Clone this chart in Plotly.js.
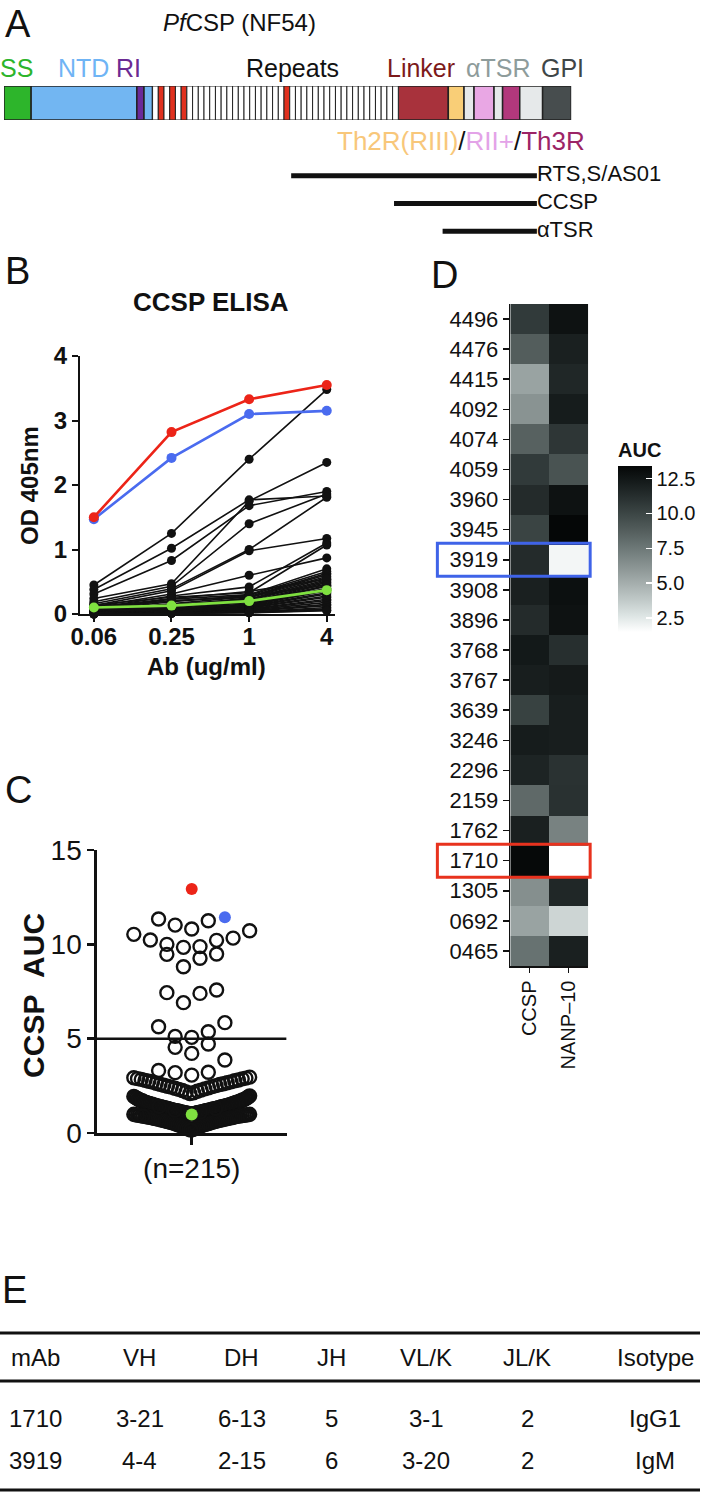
<!DOCTYPE html>
<html><head><meta charset="utf-8">
<script src="https://cdn.plot.ly/plotly-3.0.1.min.js"></script>
<style>html,body{margin:0;padding:0;background:#fff}#chart{width:701px;height:1502px}</style>
</head><body><div id="chart"></div>
<script>
// ================= DATA =================
// Panel A: PfCSP (NF54) domain map (residue coordinates)
const segNames  = ['SS','NTD','RI','NTD','Repeats','Linker','Th2R','αTSR','RII+','αTSR','Th3R','αTSR','GPI'];
const segStart  = [0, 19, 93, 98, 104, 276, 311, 322, 329, 343, 349, 361, 377];
const segEnd    = [19, 93, 98, 104, 276, 311, 322, 329, 343, 349, 361, 377, 397];
const repeatBlocks = [['NANP',1],['NVDP',1],['NANP',1],['NVDP',1],['NANP',1],['NVDP',1],['NANP',17],['NVDP',1],['NANP',19]];
const domainLabels = ['SS','NTD','RI','Repeats','Linker','αTSR','GPI'];
const constructNames = ['RTS,S/AS01','CCSP','αTSR'];
const constructStart = [201, 273, 307];
const constructEnd   = [373, 373, 373];

// Panel B: CCSP ELISA (OD 405nm)
const concentrations = ['0.06','0.25','1','4'];
const od1710    = [1.50, 2.82, 3.33, 3.55];
const od3919    = [1.47, 2.42, 3.10, 3.15];
const odControl = [0.10, 0.13, 0.20, 0.37];
const odOthers = [
 [0.45,1.25,2.40,3.48],[0.38,1.02,1.77,1.83],[0.31,0.83,1.68,1.90],[0.24,0.47,1.75,2.35],
 [0.19,0.43,1.40,1.86],[0.16,0.39,1.00,1.81],[0.13,0.36,0.98,1.17],[0.11,0.31,0.60,0.87],
 [0.09,0.28,0.42,1.10],[0.14,0.26,0.33,1.07],[0.08,0.23,0.30,0.70],[0.06,0.19,0.29,0.66],
 [0.05,0.16,0.27,0.63],[0.07,0.21,0.26,0.61],[0.04,0.12,0.25,0.58],[0.06,0.14,0.23,0.56],
 [0.05,0.11,0.22,0.53],[0.03,0.09,0.21,0.51],[0.04,0.12,0.19,0.49],[0.05,0.13,0.18,0.47],
 [0.03,0.08,0.18,0.44],[0.04,0.07,0.16,0.43],[0.02,0.06,0.15,0.40],[0.03,0.08,0.14,0.38],
 [0.02,0.05,0.13,0.36],[0.03,0.06,0.12,0.33],[0.02,0.05,0.11,0.31],[0.02,0.04,0.10,0.28],
 [0.01,0.04,0.09,0.26],[0.02,0.03,0.08,0.23],[0.01,0.03,0.07,0.21],[0.01,0.02,0.06,0.18],
 [0.01,0.02,0.05,0.15],[0.01,0.02,0.04,0.13],[0.00,0.01,0.03,0.10],[0.00,0.01,0.03,0.08],
 [0.00,0.01,0.02,0.06],[0.00,0.01,0.02,0.05],[0.10,0.24,0.35,0.54],[0.12,0.20,0.28,0.45]
];

// Panel C: CCSP AUC of all mAbs (n=215)
const auc1710 = 12.93;
const auc3919 = 11.43;
const aucControl = 0.98;
const aucCutoff = 5;
const aucOthers = [
 11.34,11.25,11.02,10.81,10.72,10.53,10.33,10.23,10.21,10.00,9.88,9.84,9.49,9.47,9.26,8.81,
 7.58,7.44,7.40,6.91,5.85,5.63,5.37,5.12,5.07,4.72,4.54,4.22,3.87,3.31,3.22,3.20,3.07,
 2.96,2.93,2.91,2.88,2.87,2.84,2.81,2.79,2.77,2.74,2.71,2.70,2.66,2.64,2.61,2.58,2.57,2.53,
 2.51,2.48,2.46,2.43,2.39,2.37,2.34,2.31,2.27,2.25,2.21,2.17,2.13,2.09,
 1.97,1.94,1.91,1.89,1.86,1.85,1.81,1.80,1.77,1.76,
 1.75,1.72,1.71,1.71,1.68,1.66,1.65,1.63,1.63,1.61,
 1.60,1.58,1.58,1.56,1.55,1.53,1.52,1.52,1.50,1.49,
 1.48,1.48,1.46,1.45,1.43,1.43,1.42,1.40,1.39,1.39,
 1.37,1.36,1.36,1.34,1.33,1.31,1.31,1.30,1.28,1.28,
 1.27,1.25,1.25,1.24,1.22,1.21,1.21,1.19,1.18,1.18,
 1.17,1.15,1.15,1.14,1.12,1.12,1.11,1.09,1.09,1.08,
 1.07,1.06,1.05,1.05,1.04,1.02,1.02,1.01,0.99,0.99,
 0.97,0.97,0.96,0.94,0.94,0.93,0.91,0.91,0.90,0.88,
 0.88,0.86,0.86,0.85,0.83,0.83,0.81,0.80,0.80,0.78,
 0.77,0.76,0.75,0.74,0.72,0.72,0.70,0.69,0.68,0.67,
 0.66,0.64,0.63,0.62,0.61,0.59,0.58,0.57,0.55,0.54,
 0.52,0.51,0.49,0.48,0.46,0.44,0.43,0.41,0.39,0.37,
 0.35,0.33,0.31,0.28,0.26,0.24,0.22,0.20,0.18,0.16,
 1.30,1.10,1.00,0.95,1.20,1.40,0.90
];

// Panel D: heatmap of AUC
const mAbIds  = ['4496','4476','4415','4092','4074','4059','3960','3945','3919','3908','3896',
                 '3768','3767','3639','3246','2296','2159','1762','1710','1305','0692','0465'];
const heatCols = ['CCSP','NANP\u201310'];
const aucCCSP = [10.6, 8.8, 5.5, 6.2, 8.6,10.6,11.4,10.1,11.4,12.0,11.4,12.4,12.1,10.2,12.2,11.8, 8.2,12.0,13.3, 6.4, 5.5, 7.8];
const aucNANP = [12.8,12.0,11.6,12.2,10.8, 9.3,12.8,13.4, 1.9,12.9,12.8,11.2,12.3,12.1,12.1,11.0,11.1, 7.0, 1.5,11.6, 3.3,12.0];
const highlightIds = ['3919','1710'];
const cbTicks = [2.5, 5, 7.5, 10, 12.5];

// Panel E: table
const tableHeader = ['mAb','VH','DH','JH','VL/K','JL/K','Isotype'];
const tableRows = [
 ['1710','3-21','6-13','5','3-1','2','IgG1'],
 ['3919','4-4','2-15','6','3-20','2','IgM']
];

// ================= STYLE / LAYOUT =================
const W = 701, H = 1502;
const X = px => px / W;
const Y = py => 1 - py / H;
const FONT = 'Liberation Sans, Arial, Helvetica, sans-serif';
const INK = '#111';
const segColors = ['#2DB52B','#72B6F2','#6A2A9A','#72B6F2','#FFFFFF','#A8323C','#F9CE77','#E6E9EA','#E9A7E4','#E6E9EA','#B2387C','#E6E9EA','#474D4E'];
const unitColor = {NANP:'#FFFFFF', NVDP:'#E0311F'};
const labelColors = ['#2DB52B','#6FB4F5','#6B2A93','#111111','#7D1A1A','#8E9C9B','#3F4647'];
const labelPx = [17, 84, 129, 293, 422, 499, 563];
const RED = '#EC2418', BLUE = '#4A6BEF', GREEN = '#7FE040';

const traces = [];

// ---- Panel A
traces.push({type:'bar', orientation:'h', xaxis:'x', yaxis:'y', hoverinfo:'skip',
  y: segStart.map(()=>0), base: segStart, x: segEnd.map((e,i)=>e-segStart[i]), width: segStart.map(()=>1),
  marker:{color: segColors, line:{color:'#222', width:1.5}}});
const units = [];
repeatBlocks.forEach(([u,n]) => { for (let k=0;k<n;k++) units.push(u); });
const repStart = segStart[segNames.indexOf('Repeats')];
const unitLen = (segEnd[segNames.indexOf('Repeats')] - repStart) / units.length;
traces.push({type:'bar', orientation:'h', xaxis:'x', yaxis:'y', hoverinfo:'skip',
  y: units.map(()=>0), base: units.map((u,i)=>repStart + i*unitLen), x: units.map(()=>unitLen), width: units.map(()=>1),
  marker:{color: units.map(u=>unitColor[u]), line:{color:'#222', width:1}}});
constructNames.forEach((nm,i) => {
  traces.push({type:'scatter', mode:'lines+text', xaxis:'x', yaxis:'y2', hoverinfo:'skip', cliponaxis:false,
    x:[constructStart[i], constructEnd[i]], y:[i,i], text:['', nm], textposition:'middle right',
    textfont:{size:22, color:INK, family:FONT}, line:{color:INK, width:5}});
});

// ---- Panel B
odOthers.forEach(s => traces.push({type:'scatter', mode:'lines+markers', xaxis:'x2', yaxis:'y3', cliponaxis:false,
  x: concentrations, y: s, line:{color:INK, width:1.6}, marker:{color:INK, size:9}, hoverinfo:'skip'}));
[[odControl, GREEN],[od3919, BLUE],[od1710, RED]].forEach(([s,c]) => traces.push({type:'scatter', mode:'lines+markers',
  xaxis:'x2', yaxis:'y3', cliponaxis:false, x: concentrations, y: s, line:{color:c, width:2.6}, marker:{color:c, size:10}, hoverinfo:'skip'}));

// ---- Panel C (column-scatter layout computed from values: rows by value bin, centred, compressed if crowded)
const cDomainPx = {x0:97, x1:287};
const xUnitPx = (cDomainPx.x1 - cDomainPx.x0) / 2;
const swarmBinEdges = [0, 1.0, 2.0, 3.0, 4.1, 5.0, 6.0, 8.0, 9.7, 10.75, 12];
const ptSpacingPx = 16.6, maxHalfPx = 58;
const swarmVals = aucOthers.concat([auc3919]);
function columnScatter(vals) {
  const offs = new Array(vals.length).fill(0);
  for (let b=0; b<swarmBinEdges.length-1; b++) {
    const idx = vals.map((v,i)=>i).filter(i => vals[i] >= swarmBinEdges[b] && vals[i] < swarmBinEdges[b+1]);
    const n = idx.length; if (!n) continue;
    idx.sort((a,c)=>vals[a]-vals[c]);
    const s = n > 1 ? Math.min(ptSpacingPx, 2*maxHalfPx/(n-1)) : 0;
    const pos = [];
    for (let j=0;j<n;j++) pos.push((j-(n-1)/2)*s);
    pos.sort((p,q)=> Math.abs(p)-Math.abs(q) || p-q);
    idx.forEach((i,k)=> offs[i] = pos[k]);
  }
  return offs;
}
const offs = columnScatter(swarmVals);
const nOther = aucOthers.length;
traces.push({type:'scatter', mode:'markers', xaxis:'x3', yaxis:'y4', cliponaxis:false, hoverinfo:'skip',
  x: offs.slice(0,nOther).map(o=>o/xUnitPx), y: aucOthers,
  marker:{symbol:'circle-open', size:13, color:INK, line:{width:2.4, color:INK}}});
traces.push({type:'scatter', mode:'markers', xaxis:'x3', yaxis:'y4', cliponaxis:false, hoverinfo:'skip',
  x: [0, offs[nOther]/xUnitPx, 0], y: [auc1710, auc3919, aucControl],
  marker:{size:12, color:[RED, BLUE, GREEN]}});

// ---- Panel D
traces.push({type:'heatmap', xaxis:'x4', yaxis:'y5', hoverinfo:'skip',
  x: heatCols, y: mAbIds, z: mAbIds.map((_,i)=>[aucCCSP[i], aucNANP[i]]),
  colorscale:[[0,'#FFFFFF'],[0.1,'#DCE4E3'],[0.2,'#BEC7C6'],[0.3,'#A3ACAB'],[0.4,'#889291'],[0.5,'#6E7978'],
              [0.6,'#56605F'],[0.7,'#3F4948'],[0.8,'#2A3232'],[0.9,'#161C1C'],[1,'#050707']],
  colorbar:{x:X(618), xanchor:'left', y:Y(632), yanchor:'bottom', xpad:0, ypad:0,
    thickness:34, thicknessmode:'pixels', len:193, lenmode:'pixels', outlinewidth:0,
    ticks:'inside', ticklen:6, tickwidth:1.5, tickcolor:'#FFFFFF',
    tickvals:cbTicks, ticktext:cbTicks.map(v=>v.toFixed(1)), tickfont:{size:20, color:INK, family:FONT},
    title:{text:'AUC', side:'top', font:{size:20, weight:700, color:INK, family:FONT}}}});

// ---- annotations
const ann = [];
const A = (text, x, y, o={}) => ann.push(Object.assign({text, x:X(x), y:Y(y), xref:'paper', yref:'paper', showarrow:false,
  xanchor:'center', yanchor:'middle', font:{size:22, color:INK, family:FONT}}, o));
[['A',3,24],['B',3,271],['C',3,790],['D',430,275],['E',0,1290]].forEach(([t,x,y]) =>
  A(t, x, y, {xanchor:'left', font:{size:38, color:INK, family:FONT}}));
A('<i>Pf</i>CSP (NF54)', 240, 22, {font:{size:24, color:INK, family:FONT}});
domainLabels.forEach((t,i) => A(t, labelPx[i], 68, {font:{size:25, color:labelColors[i], family:FONT}}));
A('<span style="color:#F8C77A">Th2R(RIII)</span>/<span style="color:#E3A3E8">RII+</span>/<span style="color:#9C2466">Th3R</span>',
  462, 141, {font:{size:26, color:INK, family:FONT}});
A('CCSP ELISA', 211, 302, {font:{size:26, weight:700, color:INK, family:FONT}});
A('OD 405nm', 30, 485, {textangle:-90, font:{size:24, weight:700, color:INK, family:FONT}});
A('Ab (ug/ml)', 207, 666, {font:{size:24, weight:700, color:INK, family:FONT}});
A('CCSP\u00a0\u00a0AUC', 33, 995, {textangle:-90, font:{size:30, weight:700, color:INK, family:FONT}});
const colPx = [36, 140, 242, 332, 427, 528, 656];
const rowPx = [1357, 1418, 1460];
[tableHeader].concat(tableRows).forEach((r,ri) => r.forEach((t,ci) => A(t, colPx[ci], rowPx[ri], {font:{size:24, color:INK, family:FONT}})));

// ---- shapes
const shapes = [];
[1333, 1381, 1490].forEach(py => shapes.push({type:'line', xref:'paper', yref:'paper', x0:0, x1:1, y0:Y(py), y1:Y(py), line:{color:INK, width:3}}));
shapes.push({type:'line', xref:'x3', yref:'y4', x0:-1, x1:1, y0:aucCutoff, y1:aucCutoff, line:{color:INK, width:2.5}});
const boxColors = ['#3F63E8', '#E8321E'];
highlightIds.forEach((id,k) => {
  const idx = mAbIds.indexOf(id);
  shapes.push({type:'rect', xref:'paper', yref:'y5', x0:X(438), x1:X(591), y0:idx-0.55, y1:idx+0.55, line:{color:boxColors[k], width:3}, fillcolor:'rgba(0,0,0,0)'});
});

const axBase = {showgrid:false, zeroline:false, showline:true, linecolor:INK, tickcolor:INK, ticks:'outside', fixedrange:true};
const layout = {
  width:W, height:H, margin:{l:0,r:0,t:0,b:0}, paper_bgcolor:'#FFFFFF', plot_bgcolor:'rgba(0,0,0,0)',
  showlegend:false, barmode:'overlay', font:{family:FONT, color:INK, size:20},
  xaxis:{domain:[X(4),X(572)], range:[0,397], visible:false, anchor:'y', fixedrange:true},
  yaxis:{domain:[Y(120),Y(86)], range:[-0.5,0.5], visible:false, anchor:'x', fixedrange:true},
  yaxis2:{domain:[Y(245),Y(162)], range:[2.5,-0.5], visible:false, anchor:'x', fixedrange:true},
  xaxis2:Object.assign({}, axBase, {domain:[X(80),X(335)], type:'category', range:[-0.18,3.1], anchor:'y3',
    linewidth:2, ticklen:6, tickwidth:2, ticklabelstandoff:-6, tickfont:{size:24, weight:700, color:INK, family:FONT}}),
  yaxis3:Object.assign({}, axBase, {domain:[Y(614),Y(356)], range:[0,4], dtick:1, anchor:'x2',
    linewidth:2, ticklen:6, tickwidth:2, tickfont:{size:24, weight:700, color:INK, family:FONT}}),
  xaxis3:Object.assign({}, axBase, {domain:[X(cDomainPx.x0),X(cDomainPx.x1)], range:[-1,1], anchor:'y4', tickvals:[0], ticktext:['(n=215)'],
    linewidth:2.5, ticklen:9, tickwidth:2.5, tickfont:{size:28, color:INK, family:FONT}}),
  yaxis4:Object.assign({}, axBase, {domain:[Y(1133),Y(850)], range:[0,15], dtick:5, anchor:'x3',
    linewidth:2.5, ticklen:7, tickwidth:2.5, tickfont:{size:28, color:INK, family:FONT}}),
  xaxis4:Object.assign({}, axBase, {domain:[X(511),X(589)], type:'category', anchor:'y5', tickangle:-90,
    linewidth:1.5, ticklen:5, tickwidth:1.5, tickfont:{size:20, color:INK, family:FONT}}),
  yaxis5:Object.assign({}, axBase, {domain:[Y(966),Y(304)], type:'category', autorange:'reversed', anchor:'x4',
    linewidth:1.5, ticklen:6, tickwidth:1.5, tickfont:{size:22, color:INK, family:FONT}}),
  annotations: ann, shapes: shapes
};
Plotly.newPlot('chart', traces, layout, {staticPlot:true, displayModeBar:false});
</script></body></html>
